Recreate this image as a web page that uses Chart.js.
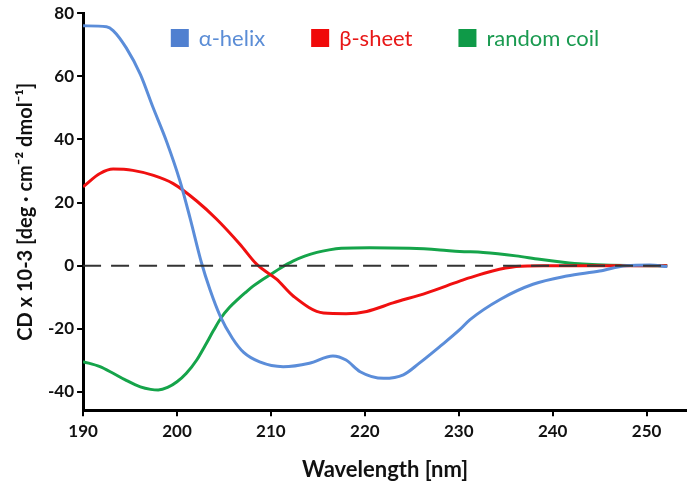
<!DOCTYPE html>
<html><head><meta charset="utf-8">
<script src="https://cdn.jsdelivr.net/npm/chart.js@4"></script>
<style>html,body{margin:0;padding:0;background:#fff}</style>
</head><body>
<canvas id="c" width="687" height="486"></canvas>
<script>
// ---- data ----
const wavelengthTicks = [190, 200, 210, 220, 230, 240, 250];
const cdTicks = [-40, -20, 0, 20, 40, 60, 80];

const alphaWl = [190, 192.5, 193.2, 194.6, 196.1, 197.4, 198.9, 200.3, 201.4, 202.6, 203.5, 204.6, 205.9, 207.1, 208.8, 211.3, 214.1, 216.6, 218.0, 219.5, 222.0, 224.1, 225.8, 228.0, 230.1, 231.2, 234.4, 237.9, 241.5, 245.0, 247.8, 250.3, 252.2];
const alphaCD = [76, 75.7, 74.5, 69, 60.6, 50.5, 39.3, 27, 15, 1, -7.5, -16, -23, -27.5, -30.5, -32, -30.9, -28.6, -29.9, -33.6, -35.7, -34.6, -30.9, -25.6, -20.3, -17.1, -10.7, -5.9, -3.3, -1.7, 0, 0.2, -0.3];

const betaWl = [190, 191.8, 193.2, 195.3, 197.5, 199.6, 202.1, 204.2, 206.7, 208.5, 210.6, 212.4, 215.6, 218.0, 220.2, 223.0, 226.6, 230.1, 231.2, 233.6, 236.1, 239.0, 245.0, 252.2];
const betaCD = [25, 29.2, 30.6, 30.2, 28.6, 26.0, 20.5, 14.8, 6.8, 0.4, -4.3, -9.7, -15, -15.2, -14.5, -11.8, -8.6, -4.9, -3.8, -1.7, -0.3, 0, 0, 0];

const coilWl = [190, 191.8, 193.2, 194.5, 196.1, 197.2, 198.0, 199.0, 200.0, 201.0, 202.1, 203.0, 203.9, 204.7, 205.6, 206.5, 207.3, 208.1, 209.0, 210.0, 211.0, 212.4, 213.6, 214.9, 216.2, 217.5, 220.5, 224.8, 228.0, 230.1, 232.6, 236.1, 238.6, 241.1, 243.2, 246.1, 252.2];
const coilCD = [-30.4, -32, -34.1, -36.2, -38.4, -39.2, -39.4, -38.6, -36.8, -34.1, -29.9, -25.3, -20.5, -16.5, -13.2, -10.6, -8.5, -6.5, -4.6, -2.7, -0.8, 1.5, 3.0, 4.2, 5.0, 5.5, 5.7, 5.5, 5.0, 4.5, 4.2, 3.1, 2.0, 1.1, 0.5, 0.1, 0];

const zeroWl = [190, 252.2];
const zeroCD = [0, 0];

const seriesNames = ['α-helix', 'β-sheet', 'random coil'];
// ---------------------------------------

const pts = (xs, ys) => xs.map((x, i) => ({x, y: ys[i]}));
const FONT = 'Lato, "Open Sans", sans-serif';

const legendPlugin = {
  id: 'topLegend',
  afterDatasetsDraw(chart) {
    const {ctx, chartArea} = chart;
    const items = chart.data.datasets.filter(d => d.label);
    ctx.save();
    ctx.font = '22px ' + FONT;
    const box = 18, gap = 10, spacing = 46;
    const widths = items.map(d => box + gap + ctx.measureText(d.label).width);
    const total = widths.reduce((a, b) => a + b, 0) + spacing * (items.length - 1);
    let x = (chartArea.left + chartArea.right) / 2 - total / 2;
    const yc = 38;
    items.forEach((d, i) => {
      ctx.fillStyle = d.boxColor;
      ctx.fillRect(x, yc - box / 2, box, box);
      ctx.fillStyle = d.textColor;
      ctx.textBaseline = 'middle';
      ctx.textAlign = 'left';
      ctx.fillText(d.label, x + box + gap, yc + 1);
      x += widths[i] + spacing;
    });
    ctx.restore();
  }
};

const lineDs = (label, data, color, boxColor, textColor) => ({
  label, data, borderColor: color, backgroundColor: color, boxColor, textColor,
  borderWidth: 3, pointRadius: 0, fill: false, cubicInterpolationMode: 'monotone'
});

new Chart(document.getElementById('c'), {
  type: 'line',
  data: {
    datasets: [
      {label: '', data: pts(zeroWl, zeroCD), borderColor: '#333', borderWidth: 2, borderDash: [18, 10], pointRadius: 0, fill: false},
      lineDs(seriesNames[0], pts(alphaWl, alphaCD), '#5b8dd9', '#5080d0', '#5b8dd6'),
      lineDs(seriesNames[1], pts(betaWl, betaCD), '#f01010', '#f00a0a', '#e81818'),
      lineDs(seriesNames[2], pts(coilWl, coilCD), '#15a44a', '#0f9a48', '#1a9a50')
    ]
  },
  plugins: [legendPlugin],
  options: {
    responsive: false,
    animation: false,
    layout: {padding: {top: 6, right: 0, bottom: 3, left: 7}},
    plugins: {legend: {display: false}, tooltip: {enabled: false}},
    scales: {
      x: {
        type: 'linear', min: 190, max: 254.3,
        afterBuildTicks: s => { s.ticks = wavelengthTicks.map(v => ({value: v})); },
        ticks: {color: '#111', font: {family: FONT, weight: 'bold', size: 17}, padding: 5, maxRotation: 0, autoSkip: false, callback: v => String(v)},
        grid: {display: true, drawOnChartArea: false, drawTicks: true, tickLength: 6, lineWidth: 2, color: '#000'},
        border: {display: true, width: 3, color: '#000'},
        title: {display: true, text: 'Wavelength [nm]', color: '#111', font: {family: FONT, weight: 'bold', size: 22}, padding: {top: 10, bottom: 0}}
      },
      y: {
        type: 'linear', min: -45.8, max: 80,
        afterBuildTicks: s => { s.ticks = cdTicks.map(v => ({value: v})); },
        ticks: {color: '#111', font: {family: FONT, weight: 'bold', size: 17}, padding: 3, autoSkip: false, callback: v => String(v)},
        grid: {display: true, drawOnChartArea: false, drawTicks: true, tickLength: 6, lineWidth: 2, color: '#000'},
        border: {display: true, width: 3, color: '#000'},
        title: {display: true, text: 'CD x 10-3 [deg · cm⁻² dmol⁻¹]', color: '#111', font: {family: FONT, weight: 'bold', size: 20}, padding: {top: 7, bottom: 7}}
      }
    }
  }
});
</script>
</body></html>
